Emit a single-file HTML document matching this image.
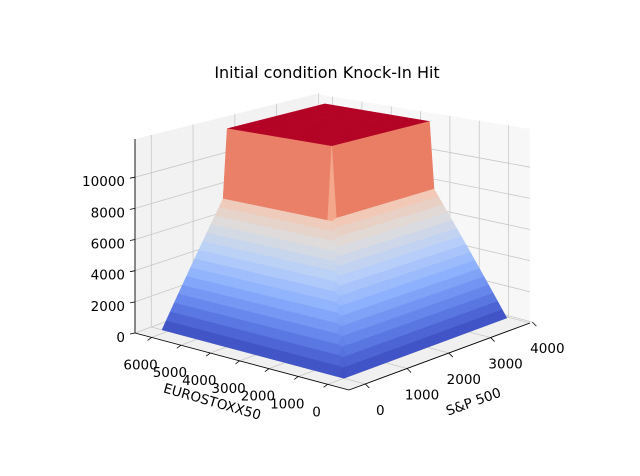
<!DOCTYPE html>
<html><head><meta charset="utf-8"><style>
html,body{margin:0;padding:0;background:#fff;}
svg{display:block;font-family:"DejaVu Sans","Liberation Sans",sans-serif;}
</style></head><body>
<svg id="chart" width="640" height="476" viewBox="0 0 640 476">
<text x="327" y="78" font-size="16" text-anchor="middle" fill="#000">Initial condition Knock-In Hit</text>
<g id="panes"></g><g id="grid"></g><g id="surface"></g><g id="axes"></g>
</svg>
<script>
// data
const sTicks = [0, 1000, 2000, 3000, 4000];
const eTicks = [0, 1000, 2000, 3000, 4000, 5000, 6000];
const zTicks = [0, 2000, 4000, 6000, 8000, 10000];
const sRange = [0, 3900];
const eRange = [0, 6200];
const initialLevels = [3000, 5000];   // S&P, EUROSTOXX initial
const barrierLevels = [0.5];           // knock-in barrier (fraction)
const payoffScale = [14900];           // value per unit performance below barrier
const plateauValue = [11900];          // value when barrier not hit
const zMaxAxis = 12450;
const gridN = 40;

const NS='http://www.w3.org/2000/svg';
function el(tag,attrs,parent){const e=document.createElementNS(NS,tag);for(const k in attrs)e.setAttribute(k,attrs[k]);parent.appendChild(e);return e;}
function sF(S){return 0.09+0.9*(S-sRange[0])/(sRange[1]-sRange[0]);}
function eF(E){return 0.1+0.85*(E-eRange[0])/(eRange[1]-eRange[0]);}
function zF(Z){return Z/zMaxAxis;}
function P(s,e,z){const x=349+181*s-214*e;const yg=390-67*s-57*e;const h=216-22*(s+e);return [x,yg-z*h];}
function pts(a){return a.map(p=>p[0].toFixed(2)+','+p[1].toFixed(2)).join(' ');}
const cmapStops=[[0,[59,76,192]],[0.125,[98,130,234]],[0.25,[141,176,254]],[0.375,[184,208,249]],[0.5,[221,221,221]],[0.625,[245,196,173]],[0.75,[244,154,123]],[0.875,[222,96,77]],[1,[180,4,38]]];
function cmap(t){t=Math.max(0,Math.min(1,t));for(let i=1;i<cmapStops.length;i++){if(t<=cmapStops[i][0]){const a=cmapStops[i-1],b=cmapStops[i];const f=(t-a[0])/(b[0]-a[0]);const c=a[1].map((v,k)=>Math.round(v+(b[1][k]-v)*f));return 'rgb('+c.join(',')+')';}}return 'rgb(180,4,38)';}
function payoff(S,E){const perf=Math.min(S/initialLevels[0],E/initialLevels[1]);return perf<barrierLevels[0]?perf*payoffScale[0]:plateauValue[0];}

// panes
const panes=document.getElementById('panes');
let p=el('polygon',{points:pts([P(0,0,0),P(1,0,0),P(1,1,0),P(0,1,0)]),fill:'#f0f0f0'},panes);

p=el('polygon',{points:pts([P(0,1,0),P(1,1,0),P(1,1,1),P(0,1,1)]),fill:'#f2f2f2'},panes);

p=el('polygon',{points:pts([P(1,0,0),P(1,1,0),P(1,1,1),P(1,0,1)]),fill:'#f7f7f7'},panes);


// grid lines
const grid=document.getElementById('grid');
function line(a,b,parent,stroke,w,name){const l=el('line',{x1:a[0],y1:a[1],x2:b[0],y2:b[1],stroke:stroke,'stroke-width':w},parent);return l;}
sTicks.forEach(S=>{const s=sF(S);line(P(s,0,0),P(s,1,0),grid,'#c8c8c8',0.8,'floor-grid-s');line(P(s,1,0),P(s,1,1),grid,'#c8c8c8',0.8,'wall-grid-s');});
eTicks.forEach(E=>{const e=eF(E);line(P(0,e,0),P(1,e,0),grid,'#c8c8c8',0.8,'floor-grid-e');line(P(1,e,0),P(1,e,1),grid,'#c8c8c8',0.8,'wall-grid-e');});
zTicks.forEach(Z=>{const z=zF(Z);line(P(0,1,z),P(1,1,z),grid,'#c8c8c8',0.8,'wall-grid-z');line(P(1,0,z),P(1,1,z),grid,'#c8c8c8',0.8,'wall-grid-z');});

// surface
const surf=document.getElementById('surface');
const quads=[];
for(let i=0;i<gridN;i++){for(let j=0;j<gridN;j++){
  const S0=sRange[0]+(sRange[1]-sRange[0])*i/gridN,S1=sRange[0]+(sRange[1]-sRange[0])*(i+1)/gridN;
  const E0=eRange[0]+(eRange[1]-eRange[0])*j/gridN,E1=eRange[0]+(eRange[1]-eRange[0])*(j+1)/gridN;
  const c=[[S0,E0],[S1,E0],[S1,E1],[S0,E1]];
  const zs=c.map(q=>payoff(q[0],q[1]));
  const avg=zs.reduce((a,b)=>a+b,0)/4;
  const poly=c.map((q,k)=>P(sF(q[0]),eF(q[1]),zF(zs[k])));
  quads.push({poly,avg,depth:sF((S0+S1)/2)+eF((E0+E1)/2)});
}}
quads.sort((a,b)=>b.depth-a.depth);
quads.forEach(q=>{const col=cmap(q.avg/plateauValue[0]);
  const g=el('polygon',{points:pts(q.poly),fill:col,stroke:col,'stroke-width':0.5,'stroke-linejoin':'round'},surf);
  
  });

// axes
const axes=document.getElementById('axes');
line(P(0,0,0),P(1,0,0),axes,'#000',0.9,'x-axis-line');
line(P(0,0,0),P(0,1,0),axes,'#000',0.9,'y-axis-line');
line(P(0,1,0),P(0,1,1),axes,'#000',0.9,'z-axis-line');
function txt(x,y,s,anchor,name,rot){const t=el('text',{x:x,y:y,'font-size':13.5,'text-anchor':anchor,fill:'#000'},axes);if(rot!==undefined)t.setAttribute('transform','rotate('+rot+' '+x+' '+y+')');t.textContent=s;return t;}
sTicks.forEach(S=>{const s=sF(S);const a=P(s,0,0);line(a,[a[0]+4,a[1]+4],axes,'#000',0.8,'x-tick');txt(a[0]+15,a[1]+31,String(S),'middle','x-tick-label');});
eTicks.forEach(E=>{const e=eF(E);const a=P(0,e,0);line(a,[a[0]-4,a[1]+3],axes,'#000',0.8,'y-tick');txt(a[0]-11,a[1]+32,String(E),'middle','y-tick-label');});
zTicks.forEach(Z=>{const z=zF(Z);const a=P(0,1,z);line(a,[a[0]-5,a[1]+1],axes,'#000',0.8,'z-tick');txt(a[0]-10,a[1]+9,String(Z),'end','z-tick-label');});
txt(475,406,'S&P 500','middle','x-axis-title',-20);
txt(211,406,'EUROSTOXX50','middle','y-axis-title',16);
</script>
</body></html>
